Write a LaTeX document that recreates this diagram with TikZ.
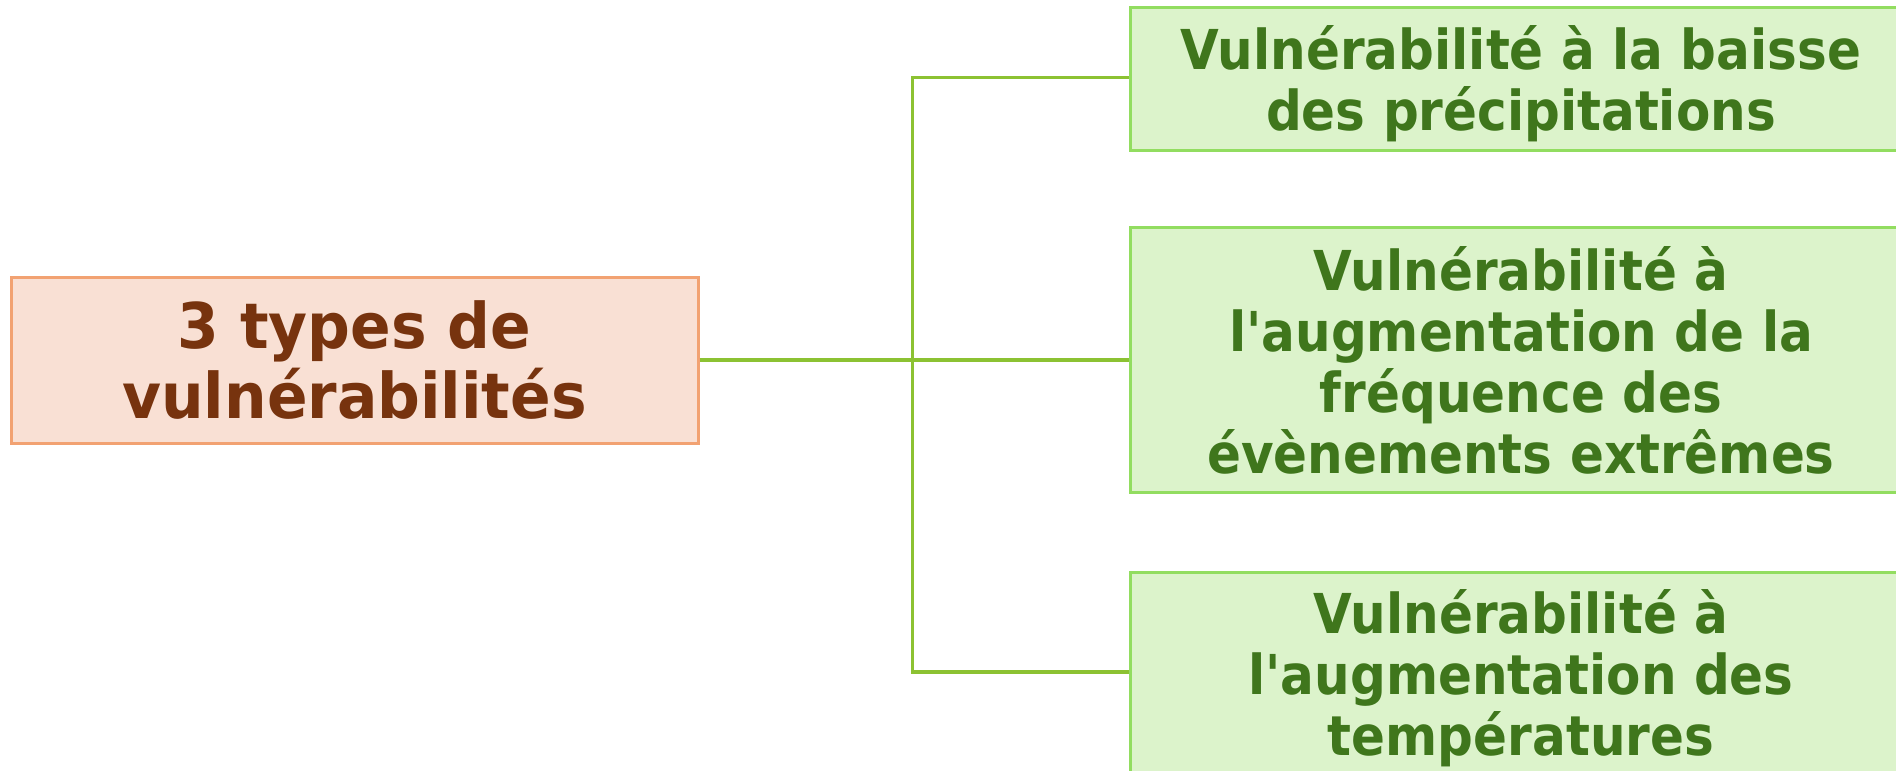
\documentclass[tikz,border=0pt]{standalone}
\usepackage{fontspec}
\newfontfamily\lbl[FakeStretch=0.91]{DejaVu Sans Bold}
\newfontfamily\rootlbl[FakeStretch=0.95]{DejaVu Sans Bold}
\definecolor{rootfill}{HTML}{F9E0D4}
\definecolor{rootdraw}{HTML}{F2A272}
\definecolor{roottext}{HTML}{77330E}
\definecolor{leaffill}{HTML}{DCF3CB}
\definecolor{leafdraw}{HTML}{92DD60}
\definecolor{leaftext}{HTML}{3F761C}
\definecolor{linkc}{HTML}{8CC232}
\tikzset{
  rootbox/.style={draw=rootdraw, fill=rootfill, line width=1.5pt, text=roottext,
    font=\rootlbl\fontsize{31.5}{35}\selectfont, align=center, inner sep=0pt,
    minimum width=343.5pt, minimum height=83pt},
  leafbox/.style={draw=leafdraw, fill=leaffill, line width=1.5pt, text=leaftext,
    font=\lbl\fontsize{27.5}{30.5}\selectfont, align=center, inner sep=0pt,
    minimum width=391pt},
  link/.style={draw=linkc, line width=1.6pt}
}
\begin{document}
\begin{tikzpicture}[x=0.5pt,y=-0.5pt]
\useasboundingbox (0,0) rectangle (1896,771);
\clip (0,0) rectangle (1896,771);
\node[rootbox] (root) at (354.5,360) {3 types de\\vulnérabilités};
\node[leafbox, minimum height=71.5pt] (top) at (1521,79) {\rule{0pt}{0pt}\\[-4pt]Vulnérabilité à la baisse\\des précipitations};
\node[leafbox, minimum height=132.5pt] (mid) at (1521,360) {Vulnérabilité à\\l'augmentation de la\\fréquence des\\évènements extrêmes};
\node[leafbox, minimum height=106pt] (bot) at (1521,678) {Vulnérabilité à\\l'augmentation des\\températures};
\draw[link] (root.east) -- (mid.west);
\draw[link] ([yshift=0.75pt]top.west) -- ++(-216,0) |- ([yshift=3pt]bot.west);
\end{tikzpicture}
\end{document}
